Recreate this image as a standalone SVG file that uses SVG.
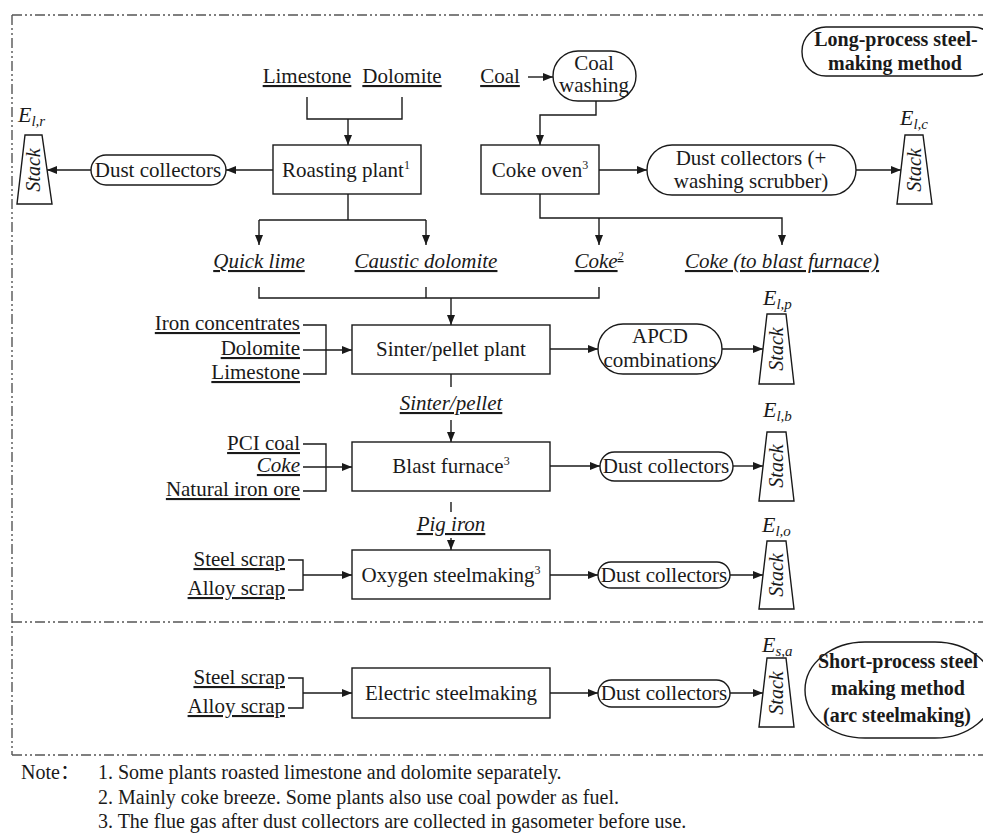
<svg xmlns="http://www.w3.org/2000/svg" width="983" height="835" viewBox="0 0 983 835">
<defs>
<marker id="ah" viewBox="0 0 10 8" refX="10" refY="4" markerWidth="10" markerHeight="8" markerUnits="userSpaceOnUse" orient="auto">
<path d="M0,0 L10,4 L0,8 Z" fill="#1a1a1a"/>
</marker>
<style>
text{font-family:"Liberation Serif","Times New Roman","Noto Sans CJK SC",serif;font-size:21px;fill:#1a1a1a}
.m{text-anchor:middle}
.e{text-anchor:end}
.u{text-decoration:underline}
.i{font-style:italic}
.b{font-weight:bold;font-size:20px}
.sup{font-size:12px}
.sub{font-size:15px;font-style:italic}
.ev{font-style:italic;font-size:22px}
.nt{font-size:20px}
.box{fill:#fff;stroke:#1a1a1a;stroke-width:1.4}
.stk{fill:#fff;stroke:#1a1a1a;stroke-width:1.4}
.stx{font-style:italic;font-size:20px;text-anchor:middle}
.ln{fill:none;stroke:#1a1a1a;stroke-width:1.4}
.ar{fill:none;stroke:#1a1a1a;stroke-width:1.4;marker-end:url(#ah)}
.bd{fill:none;stroke:#555;stroke-width:1.4;stroke-dasharray:10 3 2 3 2 3}
</style>
</defs>
<rect width="983" height="835" fill="#fff"/>

<!-- region borders -->
<g id="borders">
<path class="bd" d="M12,15 H983"/>
<path class="bd" d="M12,15 V755"/>
<path class="bd" d="M12,622 H983"/>
<path class="bd" d="M12,755 H983"/>
</g>

<!-- connectors -->
<g id="connectors">
<path class="ln" d="M307,97 V119 H402 V97"/>
<path class="ar" d="M348,119 V145"/>
<path class="ar" d="M273,170 H226"/>
<path class="ar" d="M91,170 H47"/>
<path class="ln" d="M348,194 V220"/>
<path class="ln" d="M259,220 H426"/>
<path class="ar" d="M259,220 V245"/>
<path class="ar" d="M426,220 V245"/>
<path class="ar" d="M528,77 H553"/>
<path class="ar" d="M596,101 V115 H540 V145"/>
<path class="ar" d="M599,170 H647"/>
<path class="ar" d="M856,170 H901"/>
<path class="ar" d="M540,194 V218 H782 V245"/>
<path class="ar" d="M599,218 V245"/>
<path class="ln" d="M259,287 V298 H599 V287"/>
<path class="ln" d="M426,287 V298"/>
<path class="ar" d="M451,298 V325"/>
<path class="ln" d="M303,325 H326 V374 H303"/>
<path class="ar" d="M303,350 H352"/>
<path class="ar" d="M550,349 H598"/>
<path class="ar" d="M722,349 H763"/>
<path class="ln" d="M451,374 V387"/>
<path class="ar" d="M451,420 V442"/>
<path class="ln" d="M303,444 H326 V491 H303"/>
<path class="ar" d="M303,467 H352"/>
<path class="ar" d="M550,466 H600"/>
<path class="ar" d="M733,466 H763"/>
<path class="ln" d="M451,502 V512"/>
<path class="ar" d="M451,538 V550"/>
<path class="ln" d="M288,560 H303 V590 H288"/>
<path class="ar" d="M303,575 H352"/>
<path class="ar" d="M550,575 H598"/>
<path class="ar" d="M730,575 H763"/>
<path class="ln" d="M288,678 H303 V708 H288"/>
<path class="ar" d="M303,693 H352"/>
<path class="ar" d="M550,693 H598"/>
<path class="ar" d="M730,693 H763"/>
</g>

<!-- material labels -->
<g id="materials">
<text class="m u" x="307" y="83">Limestone</text>
<text class="m u" x="402" y="83">Dolomite</text>
<text class="m u" x="500" y="83">Coal</text>
<text class="m u i" x="259" y="268">Quick lime</text>
<text class="m u i" x="426" y="268">Caustic dolomite</text>
<text class="m u i" x="599" y="268">Coke<tspan class="sup" dy="-8">2</tspan></text>
<text class="m u i" x="782" y="268">Coke (to blast furnace)</text>
<text class="e u" x="300" y="330">Iron concentrates</text>
<text class="e u" x="300" y="355">Dolomite</text>
<text class="e u" x="300" y="379">Limestone</text>
<text class="m u i" x="451" y="410">Sinter/pellet</text>
<text class="e u" x="300" y="450">PCI coal</text>
<text class="e u i" x="300" y="472">Coke</text>
<text class="e u" x="300" y="496">Natural iron ore</text>
<text class="m u i" x="451" y="531">Pig iron</text>
<text class="e u" x="285" y="566">Steel scrap</text>
<text class="e u" x="285" y="595">Alloy scrap</text>
<text class="e u" x="285" y="684">Steel scrap</text>
<text class="e u" x="285" y="713">Alloy scrap</text>
</g>

<g id="roasting">
<rect class="box" x="273" y="145" width="148" height="49"/>
<text class="m" x="346" y="177">Roasting plant<tspan class="sup" dy="-8">1</tspan></text>
</g>
<g id="coal-washing">
<rect class="box" x="553" y="51" width="83" height="50" rx="25"/>
<text class="m" x="594" y="70">Coal</text>
<text class="m" x="594" y="92">washing</text>
</g>
<g id="coke-oven">
<rect class="box" x="481" y="145" width="118" height="49"/>
<text class="m" x="540" y="177">Coke oven<tspan class="sup" dy="-8">3</tspan></text>
</g>
<g id="dc-roasting">
<rect class="box" x="91" y="155" width="135" height="30" rx="15"/>
<text class="m" x="158" y="177">Dust collectors</text>
</g>
<g id="dc-coke">
<rect class="box" x="647" y="145" width="209" height="50" rx="25"/>
<text class="m" x="751" y="165">Dust collectors (+</text>
<text class="m" x="751" y="188">washing scrubber)</text>
</g>
<g id="sinter">
<rect class="box" x="352" y="325" width="198" height="49"/>
<text class="m" x="451" y="356">Sinter/pellet plant</text>
</g>
<g id="apcd">
<rect class="box" x="598" y="324" width="124" height="50" rx="25"/>
<text class="m" x="660" y="343">APCD</text>
<text class="m" x="660" y="367">combinations</text>
</g>
<g id="blast">
<rect class="box" x="352" y="442" width="198" height="49"/>
<text class="m" x="451" y="473">Blast furnace<tspan class="sup" dy="-8">3</tspan></text>
</g>
<g id="dc-blast">
<rect class="box" x="600" y="452" width="133" height="29" rx="14.5"/>
<text class="m" x="666" y="473">Dust collectors</text>
</g>
<g id="oxygen">
<rect class="box" x="352" y="550" width="198" height="49"/>
<text class="m" x="451" y="582">Oxygen steelmaking<tspan class="sup" dy="-8">3</tspan></text>
</g>
<g id="dc-oxygen">
<rect class="box" x="598" y="562" width="132" height="26" rx="13"/>
<text class="m" x="664" y="582">Dust collectors</text>
</g>
<g id="electric">
<rect class="box" x="352" y="668" width="198" height="50"/>
<text class="m" x="451" y="700">Electric steelmaking</text>
</g>
<g id="dc-electric">
<rect class="box" x="598" y="680" width="132" height="27" rx="13.5"/>
<text class="m" x="664" y="700">Dust collectors</text>
</g>

<g id="stack-r">
<path class="stk" d="M25,135 H42 L52,204 H17 Z"/>
<text class="stx" transform="translate(40,170) rotate(-90)">Stack</text>
<text class="ev" x="18" y="122">E<tspan class="sub" dy="4">l,r</tspan></text>
</g>
<g id="stack-c">
<path class="stk" d="M905,135 H923 L932,204 H897 Z"/>
<text class="stx" transform="translate(921,170) rotate(-90)">Stack</text>
<text class="ev" x="900" y="125">E<tspan class="sub" dy="4">l,c</tspan></text>
</g>
<g id="stack-p">
<path class="stk" d="M767,314 H786 L794,384 H759 Z"/>
<text class="stx" transform="translate(783,349) rotate(-90)">Stack</text>
<text class="ev" x="763" y="305">E<tspan class="sub" dy="4">l,p</tspan></text>
</g>
<g id="stack-b">
<path class="stk" d="M767,432 H786 L794,501 H759 Z"/>
<text class="stx" transform="translate(783,466) rotate(-90)">Stack</text>
<text class="ev" x="763" y="417">E<tspan class="sub" dy="4">l,b</tspan></text>
</g>
<g id="stack-o">
<path class="stk" d="M767,541 H786 L794,609 H759 Z"/>
<text class="stx" transform="translate(783,575) rotate(-90)">Stack</text>
<text class="ev" x="762" y="532">E<tspan class="sub" dy="4">l,o</tspan></text>
</g>
<g id="stack-a">
<path class="stk" d="M767,658 H786 L794,727 H759 Z"/>
<text class="stx" transform="translate(783,693) rotate(-90)">Stack</text>
<text class="ev" x="762" y="652">E<tspan class="sub" dy="4">s,a</tspan></text>
</g>

<g id="long-process">
<rect class="box" x="802" y="27" width="195" height="49" rx="24"/>
<text class="m b" x="896" y="46">Long-process steel-</text>
<text class="m b" x="895" y="70">making method</text>
</g>
<g id="short-process">
<rect class="box" x="805" y="642" width="190" height="96" rx="60" ry="48"/>
<text class="m b" x="898" y="668">Short-process steel</text>
<text class="m b" x="898" y="695">making method</text>
<text class="m b" x="897" y="722">(arc steelmaking)</text>
</g>

<g id="notes">
<text class="nt" x="21" y="779">Note：</text>
<text class="nt" x="98" y="779">1. Some plants roasted limestone and dolomite separately.</text>
<text class="nt" x="98" y="804">2. Mainly coke breeze. Some plants also use coal powder as fuel.</text>
<text class="nt" x="98" y="828">3. The flue gas after dust collectors are collected in gasometer before use.</text>
</g>
</svg>
